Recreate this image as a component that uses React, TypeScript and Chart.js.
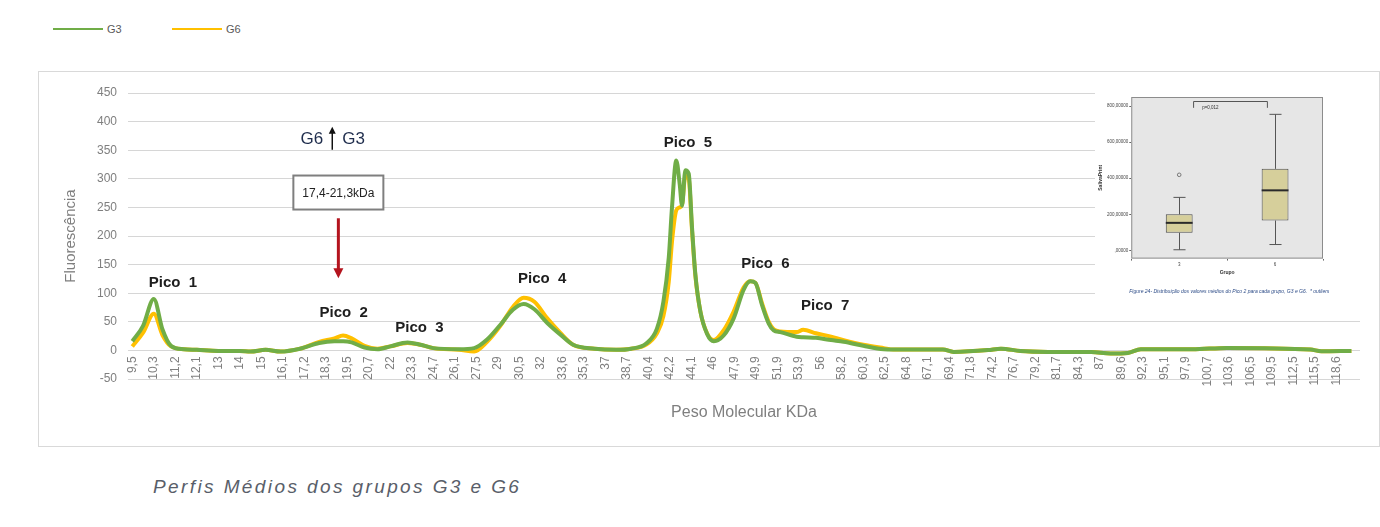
import { useEffect, useRef } from "react";
import { Chart, registerables } from "chart.js";

Chart.register(...registerables);

// Molecular-weight tick labels (kDa), one per slot of the horizontal axis
const massTickLabels = [
  "9,5", "10,3", "11,2", "12,1", "13", "14", "15", "16,1", "17,2", "18,3",
  "19,5", "20,7", "22", "23,3", "24,7", "26,1", "27,5", "29", "30,5", "32",
  "33,6", "35,3", "37", "38,7", "40,4", "42,2", "44,1", "46", "47,9", "49,9",
  "51,9", "53,9", "56", "58,2", "60,3", "62,5", "64,8", "67,1", "69,4", "71,8",
  "74,2", "76,7", "79,2", "81,7", "84,3", "87", "89,6", "92,3", "95,1", "97,9",
  "100,7", "103,6", "106,5", "109,5", "112,5", "115,5", "118,6",
];

const seriesNames = ["G3", "G6"];
const seriesColors = ["#70ad47", "#ffc000"];

// Sampled molecular weights (kDa) of the averaged profiles
const massKDa = [
  9.5, 9.9, 10.3, 10.66, 11.02, 11.56, 12.1, 13, 14, 14.5,
  15.22, 15.99, 16.98, 17.96, 18.78, 19.26, 19.74, 20.46, 21.22, 22,
  23.04, 23.86, 24.7, 26.38, 27.36, 28.25, 29.15, 30.05, 30.8, 31.55,
  32.48, 33.44, 34.45, 36.15, 37.85, 39.04, 40.23, 41.12, 41.66, 42.11,
  42.39, 42.77, 43.07, 43.28, 43.57, 43.87, 44.16, 44.46, 44.9, 45.49,
  46.08, 46.95, 47.84, 48.76, 49.38, 49.86, 50.48, 51.1, 51.56, 52.18,
  53.7, 54.32, 55.58, 57.1, 58.38, 60.3, 62.39, 63.42, 68.71, 69.88,
  73.72, 75.2, 77.45, 80.7, 85.92, 88.3, 90.41, 92.05, 98.77, 103.31,
  114.9, 116.43, 120.77,
];

// Mean fluorescence, group G3
const g3Fluorescence = [
  16, 43, 90, 37, 8, 2, 1, -1, -1, -2,
  1, -2, 3, 13, 16, 16, 14, 5, 2, 7,
  14, 10, 4, 2, 4, 19, 44, 71, 81, 72,
  48, 28, 10, 3, 1, 3, 12, 38, 85, 162,
  250, 332, 291, 253, 315, 309, 215, 132, 68, 29,
  16, 26, 56, 106, 121, 118, 79, 47, 35, 32,
  24, 23, 22, 18, 15, 8, 2, 1.5, 1.5, -2.6,
  0.5, 3, -1, -2.6, -3, -5.6, -4.4, 2, 2, 4.4,
  1.5, -1.5, -1,
];

// Mean fluorescence, group G6
const g6Fluorescence = [
  7, 31, 64, 27, 7, 2, 1, -1, -1, -2,
  1, -2, 3, 15, 21, 26, 21, 8, 3, 7,
  13, 10, 4, 1, -2, 15, 42, 76, 92, 85,
  56, 31, 10, 3, 1, 3, 10, 30, 60, 120,
  190, 245, 250, 255, 305, 300, 210, 130, 68, 30,
  18, 35, 68, 110, 121, 118, 82, 50, 37, 33,
  32, 36, 30, 24, 18, 10, 4, 1.5, 1.5, -2.6,
  0.5, 3, -1, -2.6, -3, -5.6, -4.4, 2, 2, 4.4,
  1.5, -1.5, -1,
];

// Peak names with their anchor (kDa, fluorescence level)
const peakNames = ["Pico  1", "Pico  2", "Pico  3", "Pico  4", "Pico  5", "Pico  6", "Pico  7"];
const peakLabelKDa = [11.1, 19.3, 23.8, 32.1, 43.8, 50.8, 56.5];
const peakLabelLevel = [118, 66, 40, 125, 362, 151, 77];

// Highlighted band of Pico 2
const bandText = "17,4-21,3kDa";
const bandKDa = 19.0;
const bandBoxLevel = 276;
const bandArrowFrom = 231;
const bandArrowTo = 126;
const comparisonLeft = "G6";
const comparisonRight = "G3";
const comparisonKDa = 18.66;
const comparisonLevel = 370;

// Box plot of Pico 2 means per group
const insetGroups = ["3", "6"];
const insetWhiskerLow = [4, 33];
const insetQ1 = [98, 166];
const insetMedian = [153, 333];
const insetQ3 = [200, 452];
const insetWhiskerHigh = [294, 754];
const insetOutlierGroup = [0];
const insetOutlierValue = [419];
const insetTicks = [0, 200, 400, 600, 800];
const insetPValue = "p=0,012";
const insetCaption =
  "Figure 24- Distribuição dos valores médios do Pico 2 para cada grupo, G3 e G6.  * outliers";

const FONT = '"Liberation Sans", Arial, sans-serif';

const tickKDa = massTickLabels.map((s) => parseFloat(s.replace(",", ".")));

// Position of a molecular weight on the slot axis (piecewise between tick labels)
function kdaToSlot(k: number): number {
  for (let i = 0; i < tickKDa.length - 1; i++) {
    if (k <= tickKDa[i + 1]) return i + (k - tickKDa[i]) / (tickKDa[i + 1] - tickKDa[i]);
  }
  const n = tickKDa.length - 1;
  return n + (k - tickKDa[n]) / (tickKDa[n] - tickKDa[n - 1]);
}

const profileAnnotations = {
  id: "profileAnnotations",
  afterDatasetsDraw(chart: any) {
    const { ctx } = chart;
    const xs = chart.scales.x;
    const ys = chart.scales.y;
    const px = (k: number) => xs.getPixelForValue(kdaToSlot(k));
    const py = (v: number) => ys.getPixelForValue(v);
    ctx.save();

    ctx.font = `bold 15px ${FONT}`;
    ctx.fillStyle = "#1e1e1e";
    ctx.textAlign = "center";
    ctx.textBaseline = "middle";
    peakNames.forEach((name, i) => {
      ctx.fillText(name, px(peakLabelKDa[i]), py(peakLabelLevel[i]));
    });

    // "G6 ↑ G3"
    const cx = px(comparisonKDa);
    const cy = py(comparisonLevel);
    ctx.font = `17px ${FONT}`;
    ctx.fillStyle = "#1f2d4d";
    ctx.textAlign = "right";
    ctx.fillText(comparisonLeft, cx - 9, cy + 1);
    ctx.textAlign = "left";
    ctx.fillText(comparisonRight, cx + 10, cy + 1);
    ctx.strokeStyle = "#111";
    ctx.lineWidth = 1.5;
    ctx.beginPath();
    ctx.moveTo(cx, cy + 11);
    ctx.lineTo(cx, cy - 8);
    ctx.stroke();
    ctx.fillStyle = "#111";
    ctx.beginPath();
    ctx.moveTo(cx, cy - 12);
    ctx.lineTo(cx - 3.5, cy - 5);
    ctx.lineTo(cx + 3.5, cy - 5);
    ctx.closePath();
    ctx.fill();

    // band box
    const bx = px(bandKDa);
    const by = py(bandBoxLevel);
    ctx.fillStyle = "#ffffff";
    ctx.fillRect(bx - 45, by - 17, 90, 34);
    ctx.strokeStyle = "#7f7f7f";
    ctx.lineWidth = 2;
    ctx.strokeRect(bx - 45, by - 17, 90, 34);
    ctx.font = `12px ${FONT}`;
    ctx.fillStyle = "#222";
    ctx.textAlign = "center";
    ctx.fillText(bandText, bx, by + 1);

    // red arrow
    const y0 = py(bandArrowFrom);
    const y1 = py(bandArrowTo);
    ctx.strokeStyle = "#b4141e";
    ctx.fillStyle = "#b4141e";
    ctx.lineWidth = 3;
    ctx.beginPath();
    ctx.moveTo(bx, y0);
    ctx.lineTo(bx, y1 - 8);
    ctx.stroke();
    ctx.beginPath();
    ctx.moveTo(bx, y1);
    ctx.lineTo(bx - 5, y1 - 10);
    ctx.lineTo(bx + 5, y1 - 10);
    ctx.closePath();
    ctx.fill();

    ctx.restore();
  },
};

const boxPlotExtras = {
  id: "boxPlotExtras",
  beforeDatasetsDraw(chart: any) {
    const { ctx, chartArea: a } = chart;
    ctx.save();
    ctx.fillStyle = "#e6e6e6";
    ctx.fillRect(a.left, a.top, a.width, a.height);
    ctx.restore();
  },
  afterDatasetsDraw(chart: any) {
    const { ctx, chartArea: a } = chart;
    const xs = chart.scales.x;
    const ys = chart.scales.y;
    const meta = chart.getDatasetMeta(0);
    ctx.save();
    ctx.strokeStyle = "#555";
    ctx.lineWidth = 1;
    insetGroups.forEach((_, i) => {
      const bar = meta.data[i];
      const cx = Math.round(bar.x) + 0.5;
      const half = bar.width / 2;
      const cap = half * 0.45;
      const seg = (yA: number, yB: number) => {
        ctx.beginPath();
        ctx.moveTo(cx, ys.getPixelForValue(yA));
        ctx.lineTo(cx, ys.getPixelForValue(yB));
        ctx.stroke();
        ctx.beginPath();
        ctx.moveTo(cx - cap, ys.getPixelForValue(yB));
        ctx.lineTo(cx + cap, ys.getPixelForValue(yB));
        ctx.stroke();
      };
      seg(insetQ3[i], insetWhiskerHigh[i]);
      seg(insetQ1[i], insetWhiskerLow[i]);
      ctx.save();
      ctx.strokeStyle = "#2a2a2a";
      ctx.lineWidth = 2;
      ctx.beginPath();
      ctx.moveTo(bar.x - half, ys.getPixelForValue(insetMedian[i]));
      ctx.lineTo(bar.x + half, ys.getPixelForValue(insetMedian[i]));
      ctx.stroke();
      ctx.restore();
    });
    insetOutlierGroup.forEach((g, i) => {
      ctx.beginPath();
      ctx.arc(xs.getPixelForValue(g), ys.getPixelForValue(insetOutlierValue[i]), 1.8, 0, Math.PI * 2);
      ctx.strokeStyle = "#777";
      ctx.stroke();
    });
    ctx.strokeStyle = "#8c8c8c";
    ctx.strokeRect(a.left + 0.5, a.top + 0.5, a.width - 1, a.height - 1);

    // significance bracket
    const l = xs.getPixelForValue(0.15);
    const r = xs.getPixelForValue(0.92);
    const top = ys.getPixelForValue(825);
    const foot = ys.getPixelForValue(790);
    ctx.strokeStyle = "#555";
    ctx.beginPath();
    ctx.moveTo(l, foot);
    ctx.lineTo(l, top);
    ctx.lineTo(r, top);
    ctx.lineTo(r, foot);
    ctx.stroke();
    ctx.font = `4.5px ${FONT}`;
    ctx.fillStyle = "#333";
    ctx.textBaseline = "middle";
    ctx.textAlign = "left";
    ctx.fillText(insetPValue, xs.getPixelForValue(0.24), ys.getPixelForValue(790));

    ctx.font = `italic 5px ${FONT}`;
    ctx.fillStyle = "#2b4a86";
    ctx.fillText(insetCaption, a.left - 2, a.bottom + 33);
    ctx.restore();
  },
};

export default function App() {
  const mainRef = useRef<HTMLCanvasElement>(null);
  const insetRef = useRef<HTMLCanvasElement>(null);

  useEffect(() => {
    const gray = "#7f7f7f";
    const main = new Chart(mainRef.current as HTMLCanvasElement, {
      type: "line",
      data: {
        datasets: [g3Fluorescence, g6Fluorescence].map((vals, s) => ({
          label: seriesNames[s],
          data: massKDa.map((k, i) => ({ x: kdaToSlot(k), y: vals[i] })),
          borderColor: seriesColors[s],
          backgroundColor: seriesColors[s],
          borderWidth: 4,
          pointRadius: 0,
          fill: false,
          cubicInterpolationMode: "monotone" as const,
        })),
      },
      options: {
        responsive: false,
        maintainAspectRatio: false,
        animation: false,
        devicePixelRatio: 1,
        events: [],
        layout: { padding: { left: 15, right: 19, top: 21, bottom: 67 } },
        plugins: { legend: { display: false }, tooltip: { enabled: false } },
        scales: {
          x: {
            type: "linear",
            min: -0.2,
            max: 57.1,
            position: { y: 0 } as any,
            afterBuildTicks: (scale: any) => {
              scale.ticks = massTickLabels.map((_, i) => ({ value: i }));
            },
            grid: { display: false, drawTicks: false },
            border: { display: false },
            ticks: {
              autoSkip: false,
              minRotation: 90,
              maxRotation: 90,
              padding: 6,
              color: gray,
              font: { size: 12, family: FONT },
              callback: (v: any) => massTickLabels[Math.round(Number(v))] ?? "",
            },
            title: {
              display: true,
              text: "Peso Molecular KDa",
              color: gray,
              font: { size: 16, family: FONT },
              padding: { top: 11, bottom: 0 },
            },
          },
          y: {
            min: -50,
            max: 450,
            ticks: { stepSize: 50, padding: 11, color: gray, font: { size: 12, family: FONT } },
            grid: { color: "#d6d6d6", lineWidth: 1, drawTicks: false },
            border: { display: false },
            title: {
              display: true,
              text: "Fluorescência",
              color: gray,
              font: { size: 15, family: FONT },
              padding: { top: 8, bottom: 6 },
            },
          },
        },
      },
      plugins: [profileAnnotations],
    });

    const inset = new Chart(insetRef.current as HTMLCanvasElement, {
      type: "bar",
      data: {
        labels: insetGroups,
        datasets: [
          {
            data: insetQ1.map((q, i) => [q, insetQ3[i]]),
            backgroundColor: "#d6cf9b",
            borderColor: "#4d4d4d",
            borderWidth: 1,
            borderSkipped: false,
            barPercentage: 0.28,
            categoryPercentage: 1,
          },
        ],
      },
      options: {
        responsive: false,
        maintainAspectRatio: false,
        animation: false,
        devicePixelRatio: 1,
        events: [],
        layout: { padding: { left: 1, right: 39, top: 4, bottom: 22 } },
        plugins: { legend: { display: false }, tooltip: { enabled: false } },
        scales: {
          x: {
            grid: { drawOnChartArea: false, tickLength: 2, color: "#666" },
            border: { display: false },
            ticks: { padding: 1, color: "#444", font: { size: 4.5, family: FONT } },
            title: {
              display: true,
              text: "Grupo",
              color: "#333",
              font: { size: 5, weight: "bold", family: FONT },
              padding: { top: 2, bottom: 2 },
            },
          },
          y: {
            min: -45,
            max: 850,
            afterBuildTicks: (scale: any) => {
              scale.ticks = insetTicks.map((v) => ({ value: v }));
            },
            grid: { drawOnChartArea: false, tickLength: 2, color: "#666" },
            border: { display: false },
            ticks: {
              padding: 1,
              color: "#444",
              font: { size: 4.5, family: FONT },
              callback: (v: any) => (Number(v) === 0 ? ",00000" : `${v},00000`),
            },
            title: {
              display: true,
              text: "SalivaPrint",
              color: "#333",
              font: { size: 5, weight: "bold", family: FONT },
              padding: { top: 2, bottom: 2 },
            },
          },
        },
      },
      plugins: [boxPlotExtras],
    });

    return () => {
      main.destroy();
      inset.destroy();
    };
  }, []);

  return (
    <div
      style={{
        position: "fixed",
        left: 0,
        top: 0,
        width: 1380,
        height: 527,
        background: "#ffffff",
        overflow: "hidden",
        fontFamily: FONT,
      }}
    >
      {seriesNames.map((name, i) => (
        <div
          key={name}
          style={{
            position: "absolute",
            left: 53 + i * 119,
            top: 22,
            display: "flex",
            alignItems: "center",
            fontSize: 11,
            color: "#595959",
            height: 14,
          }}
        >
          <span style={{ display: "inline-block", width: 50, height: 2, background: seriesColors[i] }} />
          <span style={{ marginLeft: 4 }}>{name}</span>
        </div>
      ))}
      <div
        style={{
          position: "absolute",
          left: 38,
          top: 71,
          width: 1340,
          height: 374,
          border: "1px solid #d9d9d9",
        }}
      />
      <canvas
        ref={mainRef}
        width={1340}
        height={374}
        style={{ position: "absolute", left: 39, top: 72, width: 1340, height: 374 }}
      />
      <canvas
        ref={insetRef}
        width={267}
        height={207}
        style={{ position: "absolute", left: 1095, top: 93, width: 267, height: 207, background: "#ffffff" }}
      />
      <div
        style={{
          position: "absolute",
          left: 153,
          top: 476,
          fontSize: 19,
          fontStyle: "italic",
          letterSpacing: 2.4,
          color: "#595e69",
          whiteSpace: "nowrap",
        }}
      >
        Perfis Médios dos grupos G3 e G6
      </div>
    </div>
  );
}
